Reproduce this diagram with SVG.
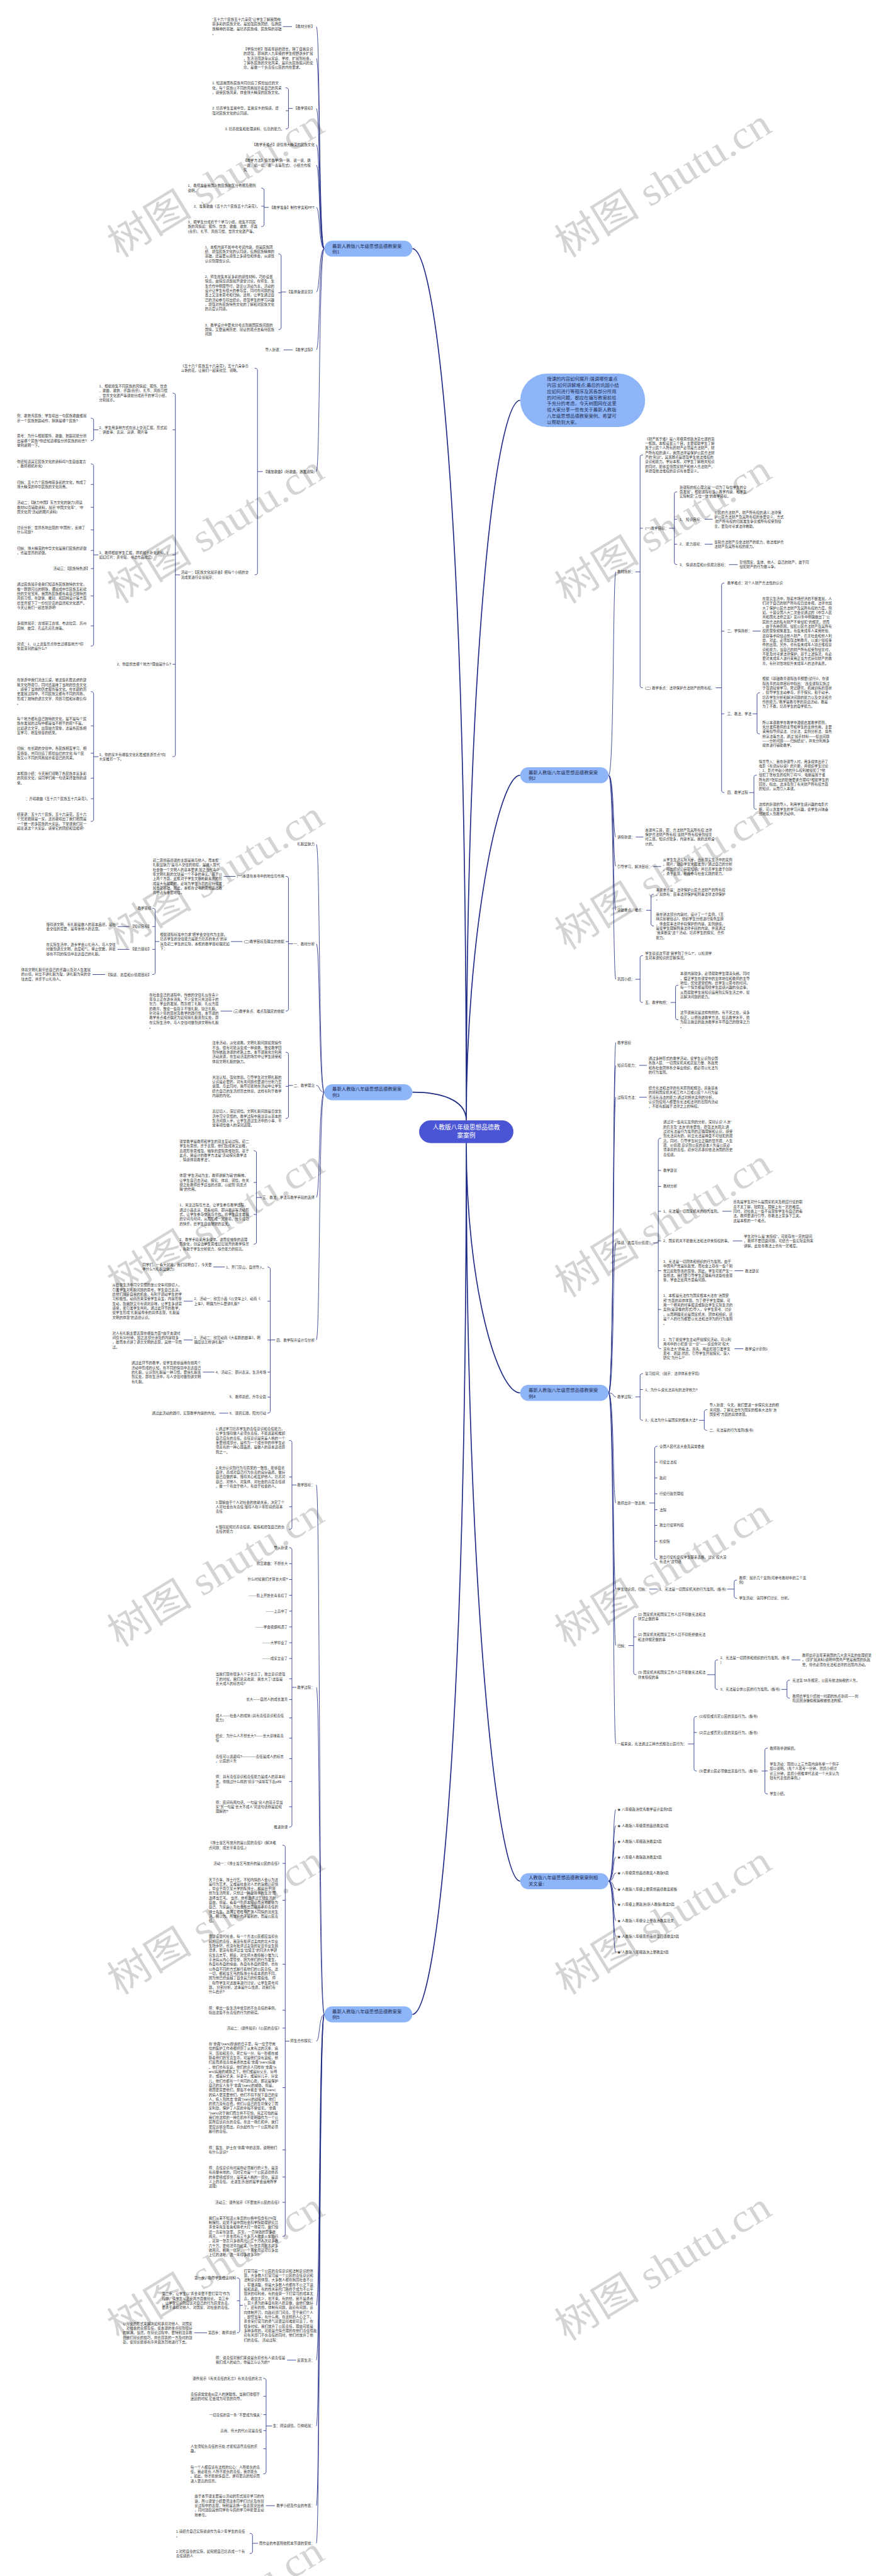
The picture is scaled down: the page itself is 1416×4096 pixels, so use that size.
<svg xmlns="http://www.w3.org/2000/svg" width="1416" height="4096" viewBox="0 0 1416 4096">
<style>
text{font-family:'Liberation Sans','Noto Sans CJK SC',sans-serif}
.t{font-size:10px;fill:#333}
.e{text-anchor:end}
.b{font-size:13.3px;fill:#263056}
.c{font-size:17.6px;fill:#fff;text-anchor:middle}
.bn{fill:#8db5f8}
.l{fill:none;stroke:#1f2a86;stroke-width:1.5}
.m{fill:none;stroke:#1f2a86;stroke-width:3}
.w{font-family:'Liberation Serif','Noto Sans CJK SC',serif;font-size:115px;fill:#000;fill-opacity:0.17;text-anchor:middle}
</style>
<rect width="1416" height="4096" fill="#fff"/>
<g transform="scale(0.553)">
<g id="connectors">
<path class="m" d="M1185,715C1250,715 1340,1400 1340,3222M1185,3140.5C1262,3140.5 1340,3160 1340,3222M1185,5792C1250,5792 1340,5100 1340,3286M1495,1151C1430,1151 1340,1800 1340,3222M1495,2229C1430,2229 1340,2700 1340,3222M1495,4005C1430,4005 1340,3700 1340,3286M1495,5409C1430,5409 1340,4600 1340,3286"/>
<path class="l" d="M932,715C916,715 920,76.5 909,76.5M932,715C916,715 920,167.6 909,167.6M932,715C916,715 920,311.7 909,311.7M932,715C916,715 920,416.1 909,416.1M932,715C916,715 920,474.9 909,474.9M932,715C916,715 920,596.3 909,596.3M932,715C916,715 920,839.4 909,839.4M932,715C916,715 920,1006 909,1006M932,715C916,715 920,1356 909,1356"/>
<path class="l" d="M932,3140.5C916,3140.5 920,2427.5 909,2427.5M932,3140.5C916,3140.5 920,2713.6 909,2713.6M932,3140.5C916,3140.5 920,3121 909,3121M932,3140.5C916,3140.5 920,3443.1 909,3443.1M932,3140.5C916,3140.5 920,3852.8 909,3852.8"/>
<path class="l" d="M932,5792C916,5792 920,4269.8 909,4269.8M932,5792C916,5792 920,4851.7 909,4851.7M932,5792C916,5792 920,5868.9 909,5868.9M932,5792C916,5792 920,6628.6 909,6628.6M932,5792C916,5792 920,6786.2 909,6786.2M932,5792C916,5792 920,6975.5 909,6975.5M932,5792C916,5792 920,7204.6 909,7204.6M932,5792C916,5792 920,7312.9 909,7312.9"/>
<path class="l" d="M1749,2229C1765,2229 1761,1644.2 1770,1644.2M1749,2229C1765,2229 1761,2406.8 1770,2406.8M1749,2229C1765,2229 1761,2491.2 1770,2491.2M1749,2229C1765,2229 1761,2617.3 1770,2617.3M1749,2229C1765,2229 1761,2815.8 1770,2815.8"/>
<path class="l" d="M1749,4005C1765,4005 1761,2997.4 1770,2997.4M1749,4005C1765,4005 1761,3063.3 1770,3063.3M1749,4005C1765,4005 1761,3154.9 1770,3154.9M1749,4005C1765,4005 1761,3573.6 1770,3573.6M1749,4005C1765,4005 1761,4016.4 1770,4016.4M1749,4005C1765,4005 1761,4321.7 1770,4321.7M1749,4005C1765,4005 1761,4569.2 1770,4569.2M1749,4005C1765,4005 1761,4731.6 1770,4731.6M1749,4005C1765,4005 1761,5014.4 1770,5014.4"/>
<path class="l" d="M1749,5409C1765,5409 1761,5203.2 1770,5203.2M1749,5409C1765,5409 1761,5249 1770,5249M1749,5409C1765,5409 1761,5294.8 1770,5294.8M1749,5409C1765,5409 1761,5339.8 1770,5339.8M1749,5409C1765,5409 1761,5385.6 1770,5385.6M1749,5409C1765,5409 1761,5431.4 1770,5431.4M1749,5409C1765,5409 1761,5476.4 1770,5476.4M1749,5409C1765,5409 1761,5522.3 1770,5522.3M1749,5409C1765,5409 1761,5568.1 1770,5568.1M1749,5409C1765,5409 1761,5613.9 1770,5613.9"/>
<path class="l" d="M813,76.5H839M815,1006H841
M821,252.45Q829,252.45 829,258.45L829,364.7Q829,370.7 821,370.7M829,318.3H821M841,311.7H829
M751,540.9Q759,540.9 759,546.9L759,645.45Q759,651.45 751,651.45M759,593.1H751M772,596.3H759
M800,730.2Q808,730.2 808,736.2L808,941.6Q808,947.6 800,947.6M808,842H800M822,839.4H808
M732,1058.9Q740,1058.9 740,1064.9L740,1646.8Q740,1652.8 732,1652.8M755,1356H740
M496,1130.4Q504,1130.4 504,1136.4L504,2169.8Q504,2175.8 496,2175.8M504,1235.9H496M504,1595.4H496M504,1910H496M518,1652.8H504
M261,1202.4Q269,1202.4 269,1208.4L269,1261.3Q269,1267.3 261,1267.3M283,1235.9H269
M261,1333.9Q269,1333.9 269,1339.9L269,1851.7Q269,1857.7 261,1857.7M269,1392.9H261M269,1458.6H261M269,1523.7H261M269,1582.7H261M269,1635H261M269,1713.6H261M269,1799.5H261M283,1595.4H269
M261,1988.6Q269,1988.6 269,1994.6L269,2356Q269,2362 261,2362M269,2087H261M269,2165.65H261M269,2237.45H261M269,2296.7H261M283,2175.8H269"/>
<path class="l" d="M821,2519.9Q829,2519.9 829,2525.9L829,2901.4Q829,2907.4 821,2907.4M829,2707.3H821M842,2713.6H829
M643,2520H677M664,2707.3H697M634,2907.4H667
M438,2611.6Q446,2611.6 446,2617.6L446,2796.1Q446,2802.1 438,2802.1M446,2664.2H438M446,2729.6H438M458,2707.2H446
M338,2664.2H372M338,2729.6H372M266,2802H302
M821,3025.5Q829,3025.5 829,3031.5L829,3209.9Q829,3215.9 821,3215.9M829,3123.6H821M842,3121H829
M729,3308.6Q737,3308.6 737,3314.6L737,3571.45Q737,3577.45 729,3577.45M737,3400H729M737,3491.9H729M752,3443.1H737
M768.6,3643.2Q776.6,3643.2 776.6,3649.2L776.6,4057.3Q776.6,4063.3 768.6,4063.3M776.6,3741.4H768.6M776.6,3853.1H768.6M776.6,3945.3H768.6M776.6,4017H768.6M791,3852.8H776.6
M613,3643H646M528,3741.4H554M528,3853H554M583,3945.3H616M630,4063.3H656"/>
<path class="l" d="M831,4141.8Q839,4141.8 839,4147.8L839,4391.5Q839,4397.5 831,4397.5M839,4246.8H831M839,4332.45H831M852,4269.8H839
M831,4449.9Q839,4449.9 839,4455.9L839,5247.5Q839,5253.5 831,5253.5M839,4496.2H831M839,4541.6H831M839,4587H831M839,4632.5H831M839,4677.9H831M839,4723.4H831M839,4768.8H831M839,4827.05H831M839,4886.8H831M839,4939.6H831M839,4997.8H831M839,5056.8H831M839,5122.45H831M839,5195.05H831M852,4851.7H839
M811.7,5305.6Q819.7,5305.6 819.7,5311.6L819.7,6424.4Q819.7,6430.4 811.7,6430.4M819.7,5357.9H811.7M819.7,5463.8H811.7M819.7,5647.9H811.7M819.7,5779.9H811.7M819.7,5831.5H811.7M819.7,6002.8H811.7M819.7,6181.6H811.7M819.7,6259.7H811.7M819.7,6332.5H811.7M832,5868.9H819.7
M681,6549.8Q689,6549.8 689,6555.8L689,6701.4Q689,6707.4 681,6707.4M689,6615.4H681M698,6628.6H689
M558,6707.4H595M825,6786.2H851
M756.8,6838.5Q764.8,6838.5 764.8,6844.5L764.8,7107.3Q764.8,7113.3 756.8,7113.3M764.8,6890.1H756.8M764.8,6943.1H756.8M764.8,6988.8H756.8M764.8,7041.1H756.8M782,6975.5H764.8
M764,7204.6H790
M717.6,7284.2Q725.6,7284.2 725.6,7290.2L725.6,7336.3Q725.6,7342.3 717.6,7342.3M742,7312.9H725.6"/>
<path class="l" d="M1847.5,1308.1Q1839.5,1308.1 1839.5,1314.1L1839.5,1971.7Q1839.5,1977.7 1847.5,1977.7M1839.5,1518.9H1847.5M1826,1644.2H1839.5
M1946,1414Q1938,1414 1938,1420L1938,1617.3Q1938,1623.3 1946,1623.3M1938,1493.1H1946M1938,1564.7H1946M1923,1518.9H1938
M2025,1493H2048M2025,1564.7H2048M2095,1623.4H2120
M2081.7,1676.4Q2073.7,1676.4 2073.7,1682.4L2073.7,2273Q2073.7,2279 2081.7,2279M2073.7,1814.6H2081.7M2073.7,2052.4H2081.7M2057,1977.7H2073.7
M2163,1814.4H2186
M2183.6,1992Q2175.6,1992 2175.6,1998L2175.6,2104.4Q2175.6,2110.4 2183.6,2110.4M2163,2052.4H2175.6
M2174.6,2228.75Q2166.6,2228.75 2166.6,2234.75L2166.6,2320.85Q2166.6,2326.85 2174.6,2326.85M2153,2279H2166.6
M1827,2406.8H1849M1877,2491.5H1900
M1879,2571.15Q1871,2571.15 1871,2577.15L1871,2656.5Q1871,2662.5 1879,2662.5M1857,2617.3H1871
M1847.5,2747.7Q1839.5,2747.7 1839.5,2753.7L1839.5,2876.5Q1839.5,2882.5 1847.5,2882.5M1826,2815.8H1839.5
M1949.4,2832.8Q1941.4,2832.8 1941.4,2838.8L1941.4,2926.2Q1941.4,2932.2 1949.4,2932.2M1927,2882.5H1941.4"/>
<path class="l" d="M1837,3063.3H1859M1837,3155H1859
M1899.8,3272.9Q1891.8,3272.9 1891.8,3278.9L1891.8,3872.1Q1891.8,3878.1 1899.8,3878.1M1891.8,3365.5H1899.8M1891.8,3411.3H1899.8M1891.8,3482.8H1899.8M1891.8,3568H1899.8M1891.8,3653.9H1899.8M1891.8,3765.25H1899.8M1877,3573.6H1891.8
M2076,3482.8H2102M2106,3568H2133M2111,3653.9H2136M2111,3878.1H2136
M1847.5,3949.7Q1839.5,3949.7 1839.5,3955.7L1839.5,4077.9Q1839.5,4083.9 1847.5,4083.9M1839.5,3995.5H1847.5M1826,4016.4H1839.5
M2032,4053.35Q2024,4053.35 2024,4059.35L2024,4106.8Q2024,4112.8 2032,4112.8M2009,4083.9H2024
M1889.5,4158.6Q1881.5,4158.6 1881.5,4164.6L1881.5,4478.2Q1881.5,4484.2 1889.5,4484.2M1881.5,4204.4H1889.5M1881.5,4249.4H1889.5M1881.5,4295.2H1889.5M1881.5,4341H1889.5M1881.5,4386H1889.5M1881.5,4431.8H1889.5M1866,4321.7H1881.5
M1866,4569.2H1890
M2118,4543Q2110,4543 2110,4549L2110,4589.7Q2110,4595.7 2118,4595.7M2090,4569.2H2110
M1829,4648.1Q1821,4648.1 1821,4654.1L1821,4809.3Q1821,4815.3 1829,4815.3M1821,4706.8H1829M1806,4731.6H1821
M2063,4772.7Q2055,4772.7 2055,4778.7L2055,4851.7Q2055,4857.7 2063,4857.7M2032,4815.3H2055
M2275,4772.7H2300
M2269.7,4831.2Q2261.7,4831.2 2261.7,4837.2L2261.7,4876.8Q2261.7,4882.8 2269.7,4882.8M2245,4857.7H2261.7
M2002.5,4935.6Q1994.5,4935.6 1994.5,4941.6L1994.5,5086.3Q1994.5,5092.3 2002.5,5092.3M1994.5,4981.4H2002.5M1977,5014.4H1994.5
M2206.3,5026.4Q2198.3,5026.4 2198.3,5032.4L2198.3,5152.2Q2198.3,5158.2 2206.3,5158.2M2198.3,5092.1H2206.3M2189,5092.3H2198.3"/>
</g>

<g id="center"><rect x="1205" y="3222" width="270" height="64" rx="32" fill="#4a55d6" stroke="#3a44b4" stroke-width="1"/><text class="c" x="1340" y="3248">人教版八年级思想品德教<tspan x="1340" dy="23">案案例</tspan></text></g>

<g id="intro"><rect class="bn" x="1495" y="1074" width="359" height="154" rx="77"/><text class="b" x="1572" y="1094.1">授课的内容如何展开;强调哪些重点<tspan x="1572" dy="17.8">内容;如何讲解难点;最后的巩固小结</tspan><tspan x="1572" dy="17.8">应如何进行等程序及其各部分所用</tspan><tspan x="1572" dy="17.8">的时间问题，都应在编写教案前给</tspan><tspan x="1572" dy="17.8">予充分的考虑。今天树图网在这里</tspan><tspan x="1572" dy="17.8">给大家分享一些有关于最新人教版</tspan><tspan x="1572" dy="17.8">八年级思想品德教案案例，希望可</tspan><tspan x="1572" dy="17.8">以帮助到大家。</tspan></text></g>

<g id="case1"><rect class="bn" x="932" y="692" width="253" height="46" rx="23"/><text class="b" x="955" y="712">最新人教版八年级思想品德教案案<tspan x="955" dy="17.6">例1</tspan></text></g>
<g id="case1-items">
<text class="t e" x="904" y="80.1">【教材分析】</text>
<text class="t" x="610" y="59.4">“五十六个民族五十六朵花”让学生了解我国绚<tspan x="610" dy="13.25">丽多彩的民族文化，是加强民族团结、弘扬民</tspan><tspan x="610" dy="13.25">族精神的基础，是培养民族魂、民族情的基础</tspan><tspan x="610" dy="13.25">。</tspan></text>
<text class="t" x="700" y="144.7">【学情分析】随着年龄的增长，除了自我意识<tspan x="700" dy="13.25">的增强，即将跨入九年级的学生视野逐步扩展</tspan><tspan x="700" dy="13.25">，生活范围逐渐从家庭、学校、扩展到社会。</tspan><tspan x="700" dy="13.25">了解各民族的文化风采，是肩负民族振兴的使</tspan><tspan x="700" dy="13.25">命，是做一个负责任公民的内在要求。</tspan></text>
<text class="t e" x="904" y="315.3">【教学目标】</text>
<text class="t" x="610" y="242.8">1. 知道我国各民族共同创造了辉煌灿烂的文<tspan x="610" dy="13.25">化，每个民族以不同的风格展示着自己的风采</tspan><tspan x="610" dy="13.25">，感受民族风采，体会博大精深的民族文化。</tspan></text>
<text class="t" x="610" y="315.3">2. 培养学生爱我中华，爱我家乡的情感，增<tspan x="610" dy="13.25">强对民族文化的认同感。</tspan></text>
<text class="t e" x="817" y="374.3">3. 培养搜集和处理资料、信息的能力。</text>
<text class="t e" x="904" y="419.7">【教学重难点】感悟博大精深的民族文化</text>
<text class="t" x="700" y="465.2">【教学方法】情景教学(猜一猜、说一说、跳<tspan x="700" dy="13.25">一跳、唱一唱、奏一奏等形式)、小组合作探</tspan><tspan x="700" dy="13.25">究</tspan></text>
<text class="t e" x="904" y="599.9">【教学准备】制作学案和PPT</text>
<text class="t" x="540" y="537.7">1、教师准备我国少数民族地区分布图及图例<tspan x="540" dy="13.25">说明。</tspan></text>
<text class="t e" x="747" y="596.7">2、准备歌曲《五十六个民族五十六朵花》。</text>
<text class="t" x="540" y="642.2">3、把学生分成若干个学习小组，搜集不同民<tspan x="540" dy="13.25">族的风情如：服饰、饮食、歌曲、歌舞、乐器</tspan><tspan x="540" dy="13.25">(音乐)、礼节、风俗习惯、世界文化遗产等。</tspan></text>
<text class="t e" x="904" y="843">【集体备课意见】</text>
<text class="t" x="589" y="713.9">1、本框内容不属中考考试内容，但是民族团<tspan x="589" dy="13.25">结、增强民族文化的认同感，弘扬民族精神的</tspan><tspan x="589" dy="13.25">基础，还是要从感性上多感悟和体会，从感性</tspan><tspan x="589" dy="13.25">认识到理性认识。</tspan></text>
<text class="t" x="589" y="799.2">2、师生搜集丰富多彩的感性材料，巧妙设置<tspan x="589" dy="13.25">情境，由情境话题展开课堂讨论，在师生、生</tspan><tspan x="589" dy="13.25">生合作中明理导行，建议以活动为主，活动的</tspan><tspan x="589" dy="13.25">设计让学生有很大的参与度，同时在问题的设</tspan><tspan x="589" dy="13.25">置上又注重思考和归纳，这样，让学生通过自</tspan><tspan x="589" dy="13.25">己的活动参与得出结论，增强学生的学习兴趣</tspan><tspan x="589" dy="13.25">，增强对各民族特色文化的了解和对民族文化</tspan><tspan x="589" dy="13.25">的高度认同感。</tspan></text>
<text class="t" x="589" y="937.9">3、教学设计中要充分考虑到我国民族问题的<tspan x="589" dy="13.25">国情，又要运用历史、辩证的观点去看待民族</tspan><tspan x="589" dy="13.25">问题</tspan></text>
<text class="t e" x="904" y="1009.6">【教学过程】</text>
<text class="t e" x="812" y="1009.6">导入新课：</text>
<text class="t e" x="904" y="1359.6">【播放歌曲】(听歌曲，激发感情)</text>
<text class="t" x="520" y="1055.9">《五十六个民族五十六朵花》，五十六朵争奇<tspan x="520" dy="13.25">斗艳的花，让我们一起来欣赏、领略。</tspan></text>
<text class="t" x="520" y="1649.8">活动一：【民族文化展示会】把每个小组的交<tspan x="520" dy="13.25">流成果进行全班展示：</tspan></text>
<text class="t" x="285" y="1114.1">1、根据搜集不同民族的风情如：服饰、饮食<tspan x="285" dy="13.25">、歌曲、歌舞、乐器(音乐)、礼节、风俗习惯</tspan><tspan x="285" dy="13.25">、世界文化遗产等课前分成若干的学习小组，</tspan><tspan x="285" dy="13.25">分别展示。</tspan></text>
<text class="t" x="285" y="1232.9">2、学生用多种方式在班上交流汇报，形式如<tspan x="285" dy="13.25">：讲故事、表演、演讲、图片等</tspan></text>
<text class="t" x="49" y="1199.4">例：歌舞秀民族：学生唱出一句民族歌曲或展<tspan x="49" dy="13.25">示一个民族舞蹈动作，猜猜是哪个民族?</tspan></text>
<text class="t" x="49" y="1257.6">思考：为什么根据服饰、歌曲、舞蹈就能分辨<tspan x="49" dy="13.25">出是哪个民族?你还知道哪些分辨民族的标志?</tspan><tspan x="49" dy="13.25">举例说明一下。</tspan></text>
<text class="t" x="285" y="1592.4">3、教师根据学生汇报，择机展示补充资料。(<tspan x="285" dy="13.25">如幻灯片：黄帝陵、书法作品欣赏)</tspan></text>
<text class="t" x="49" y="1330.9">你还知道其它民族文化的资料吗?(生自由发言<tspan x="49" dy="13.25">，教师相机补充)</tspan></text>
<text class="t" x="49" y="1389.9">归纳：五十六个民族绚丽多彩的文化，构成了<tspan x="49" dy="13.25">博大精深的中华民族的文化画卷。</tspan></text>
<text class="t" x="49" y="1448.9">活动二：【魅力中国】东方文化的魅力(阅读<tspan x="49" dy="13.25">教材92页辅助资料，展示“中国文化年”、“中</tspan><tspan x="49" dy="13.25">国文化周”活动的图片资料)</tspan></text>
<text class="t" x="49" y="1520.7">讨论分析：世界各地出现的“中国热”，反映了<tspan x="49" dy="13.25">什么问题?</tspan></text>
<text class="t" x="49" y="1579.7">归纳：博大精深的中华文化是我们民族的骄傲<tspan x="49" dy="13.25">，也是世界的骄傲。</tspan></text>
<text class="t e" x="258" y="1638.6">活动三：【民族特色游】</text>
<text class="t" x="49" y="1684.1">通过民族展示会我们知道各民族独特的文化，<tspan x="49" dy="13.25">像一颗颗闪亮的明珠，镶嵌成中华民族五彩缤</tspan><tspan x="49" dy="13.25">纷的文化宝库。我国各民族都有着自己独特的</tspan><tspan x="49" dy="13.25">风俗习惯，在建筑、雕刻、和园林设计等方面</tspan><tspan x="49" dy="13.25">给世界留下了一份份珍贵的自然和文化遗产。</tspan><tspan x="49" dy="13.25">今天让我们一起去旅游吧!</tspan></text>
<text class="t" x="49" y="1796.5">多媒体展示：古城丽江古城、布达拉宫、苏州<tspan x="49" dy="13.25">园林、故宫、孔庙孔府孔林等。</tspan></text>
<text class="t" x="49" y="1854.7">对话：1、以上这些景点你去过哪些地方?印<tspan x="49" dy="13.25">象最深刻的是什么?</tspan></text>
<text class="t e" x="492" y="1913.6">2、你最想去哪个地方?理由是什么?</text>
<text class="t" x="285" y="2172.8">3、你的家乡有哪些文化名胜或旅游景点?向<tspan x="285" dy="13.25">大家推荐一下。</tspan></text>
<text class="t" x="49" y="1959.1">在旅游中我们流连忘返，被这些名胜古迹的建<tspan x="49" dy="13.25">筑文化所吸引，同时还品味了当地的饮食文化</tspan><tspan x="49" dy="13.25">、感受了当地的历史服饰等文化。在长期的历</tspan><tspan x="49" dy="13.25">史发展过程中，不同民族又都有不同的风格，</tspan><tspan x="49" dy="13.25">形成了独特的语言文字、风俗习惯和宗教信仰</tspan><tspan x="49" dy="13.25">。</tspan></text>
<text class="t" x="49" y="2070.7">每个地方都有自己独特的文化，是不是每个民<tspan x="49" dy="13.25">族在发展的过程中都是毫不相干的呢?不是。</tspan><tspan x="49" dy="13.25">比如语言文字，出现融合现象，这是各民族相</tspan><tspan x="49" dy="13.25">互学习、相互借鉴的结果。</tspan></text>
<text class="t" x="49" y="2156">归纳：在长期的交往中，各民族相互学习、相<tspan x="49" dy="13.25">互借鉴，共同创造了辉煌灿烂的文化;每个民</tspan><tspan x="49" dy="13.25">族又以不同的风格展示着自己的风采。</tspan></text>
<text class="t" x="49" y="2227.8">本框题小结：今天我们领略了各民族丰富多彩<tspan x="49" dy="13.25">的风俗文化，请同学们用一句话来抒发你的感</tspan><tspan x="49" dy="13.25">受。</tspan></text>
<text class="t e" x="258" y="2300.3">：齐唱歌曲《五十六个民族五十六朵花》。</text>
<text class="t" x="49" y="2345.7">结束语：五十六个民族，五十六朵花，五十六<tspan x="49" dy="13.25">个兄弟姐妹是一家，这首歌唱出了我们祖国是</tspan><tspan x="49" dy="13.25">一个统一的多民族的大家庭。下堂课我们就一</tspan><tspan x="49" dy="13.25">起走进这个大家庭，感受它的团结和温暖吧!</tspan></text>
</g>

<g id="case3"><rect class="bn" x="932" y="3117.5" width="253" height="46" rx="23"/><text class="b" x="955" y="3136">最新人教版八年级思想品德教案案<tspan x="955" dy="17.6">例3</tspan></text></g>
<g id="case3-items">
<text class="t e" x="904" y="2431.1">礼貌显魅力</text>
<text class="t e" x="904" y="2717.2">一、教材分析</text>
<text class="t e" x="817" y="2523.5">(一)本课在本书中的地位与作用</text>
<text class="t" x="439" y="2477.3">初二思想品德课的主题是我与他人，而本框“<tspan x="439" dy="13.25">礼貌显魅力”是与人交往的前提，是融入现代</tspan><tspan x="439" dy="13.25">社会做一个文明人的基本要求;加之当代青少</tspan><tspan x="439" dy="13.25">年文明礼貌的欠缺是一个不争的事实。基于以</tspan><tspan x="439" dy="13.25">上两个方面，此框对于学生文明礼貌素质的形</tspan><tspan x="439" dy="13.25">成是大有帮助的，必将为学生今后的可持续发</tspan><tspan x="439" dy="13.25">展奠定基础。因此，本框在全书的思想品德教</tspan><tspan x="439" dy="13.25">育中占有重要地位。</tspan></text>
<text class="t e" x="817" y="2710.9">(二)教学目标及确立的依据</text>
<text class="t" x="460" y="2690.9">根据课程标准中力求“把学会交往作为主题，<tspan x="460" dy="13.25">培养学生的交往能力是能力培养的重点”的宗</tspan><tspan x="460" dy="13.25">旨及初二学生的实际，本框的教学目标确定如</tspan><tspan x="460" dy="13.25">下：</tspan></text>
<text class="t e" x="435" y="2615.2">教学目标</text>
<text class="t e" x="435" y="2667.8">【知识目标】</text>
<text class="t" x="133" y="2661.4">懂得讲文明、有礼貌是做人的基本品德，是社<tspan x="133" dy="13.25">会交往的需要，是尊重他人的表现。</tspan></text>
<text class="t e" x="435" y="2733.2">【能力目标】</text>
<text class="t" x="133" y="2719.6">在实际生活中，逐步学会以礼待人，与人交往<tspan x="133" dy="13.25">时做到语言文明，态度和气，举止优雅，并能</tspan><tspan x="133" dy="13.25">够在不同的情境中表达自己的礼貌。</tspan></text>
<text class="t e" x="435" y="2805.7">【情感、态度和价值观目标】</text>
<text class="t" x="61" y="2792.2">体验文明礼貌带给自己的乐趣以及对人生发展<tspan x="61" dy="13.25">的价值，树立不讲礼貌为耻、讲礼貌为荣的交</tspan><tspan x="61" dy="13.25">往态度，并乐于以礼待人。</tspan></text>
<text class="t e" x="817" y="2911">(三)教学重点、难点及确定的依据</text>
<text class="t" x="429" y="2863.9">在社会变迁的进程中，传统的交往礼仪在青少<tspan x="429" dy="13.25">年身上正在逐步消失，不少家长只关注孩子的</tspan><tspan x="429" dy="13.25">智力、学业的发展，而忽视了礼貌、礼仪方面</tspan><tspan x="429" dy="13.25">的教育，致使一些孩子不懂礼貌，缺乏礼貌。</tspan><tspan x="429" dy="13.25">针对青少年的现状及教学的践行性，本节课的</tspan><tspan x="429" dy="13.25">教学重点难点确定为如何将礼貌落到实处，即</tspan><tspan x="429" dy="13.25">在实际生活中，与人交往时做到讲文明有礼貌</tspan><tspan x="429" dy="13.25">。</tspan></text>
<text class="t e" x="904" y="3124.6">二、教学理念</text>
<text class="t" x="610" y="3002.6">注重活动，淡化说教。文明礼貌问题如果操作<tspan x="610" dy="13.25">不当，很有可能演变成一种说教，致使教学回</tspan><tspan x="610" dy="13.25">到传统政治课的老路上去。本节课我充分利用</tspan><tspan x="610" dy="13.25">活动资源，在生动活泼的场景中让学生感受和</tspan><tspan x="610" dy="13.25">体验文明礼貌的魅力。</tspan></text>
<text class="t" x="610" y="3100.7">关注认知，强化体验。引导学生对文明礼貌的<tspan x="610" dy="13.25">认识是必要的，对有关问题也要进行分析乃至</tspan><tspan x="610" dy="13.25">说理。与此同时，我尽可能地在活动中让学生</tspan><tspan x="610" dy="13.25">结合自己的生活经历去体验，这样有利于教学</tspan><tspan x="610" dy="13.25">内容的内化。</tspan></text>
<text class="t" x="610" y="3199.6">表层切入，深层领悟。文明礼貌问题是日常生<tspan x="610" dy="13.25">活中司空见惯的。教学过程中我注意从基本的</tspan><tspan x="610" dy="13.25">生活问题入手，让学生透过生活中的小事、平</tspan><tspan x="610" dy="13.25">常事领悟做人的深刻道理。</tspan></text>
<text class="t e" x="904" y="3446.7">三、教法、学法与教学手段的选择</text>
<text class="t" x="516" y="3285.7">课堂教学是教师和学生的双主互动过程。初二<tspan x="516" dy="13.25">学生有思想，乐于表现，他们既成熟又幼稚，</tspan><tspan x="516" dy="13.25">直观形象思维强，抽象的逻辑思维较弱。基于</tspan><tspan x="516" dy="13.25">此点，我设计的教学方法是“活动探究教学法</tspan><tspan x="516" dy="13.25">、情感体验教学法”。</tspan></text>
<text class="t" x="516" y="3383.7">体现“学生活动为主，教师讲解为辅”的精神，<tspan x="516" dy="13.25">让学生自己去活动、探究、体验、领悟，在关</tspan><tspan x="516" dy="13.25">键之处教师给予适当的点拨，以起到“画龙点</tspan><tspan x="516" dy="13.25">睛”的作用。</tspan></text>
<text class="t" x="516" y="3469">1、关注过程与方法，让学生参与教学过程，<tspan x="516" dy="13.25">通过小品表演、观看动画、即兴表演等活动形</tspan><tspan x="516" dy="13.25">式，让学生参与交流与合作，给学生自主发展</tspan><tspan x="516" dy="13.25">的空间与时间，从而形成一定体验，分享成功</tspan><tspan x="516" dy="13.25">的快乐，给学生自由驰骋的蓝天。</tspan></text>
<text class="t" x="516" y="3567.8">2、教学手段采用多媒体，进而使抽象的道理<tspan x="516" dy="13.25">形象化，创设让学生思维层层展开的教学情景</tspan><tspan x="516" dy="13.25">，有助于学生分析能力、综合能力的提高。</tspan></text>
<text class="t e" x="904" y="3856.4">四、教学程序设计与分析</text>
<text class="t e" x="765" y="3646.8">1、开门见山，自然导入。</text>
<text class="t" x="409" y="3639.6">同学们，一看大屏幕，我们就明白了，今天要<tspan x="409" dy="13.25">学什么?(礼貌显魅力)</tspan></text>
<text class="t" x="558" y="3738.4">2、活动一：欣赏小品《公交车上》、动画《<tspan x="558" dy="13.25">上车》，明确为什么要讲礼貌?</tspan></text>
<text class="t" x="323" y="3698.6">从日常生活中司空见惯的坐公交车问题切入，<tspan x="323" dy="13.25">引发学生对礼貌问题的思考，学生自己表演，</tspan><tspan x="323" dy="13.25">给他们展示自我的机会，有利于调动学生的学</tspan><tspan x="323" dy="13.25">习积极性。动画历来深受学生喜爱，内容形象</tspan><tspan x="323" dy="13.25">生动，既幽默又带有讽刺意味，让学生多感官</tspan><tspan x="323" dy="13.25">感受，能引发学生共鸣。通过此环节的教学，</tspan><tspan x="323" dy="13.25">使学生形成“礼貌是尊重的具体表现，礼貌是</tspan><tspan x="323" dy="13.25">文明的体现”的道德认识。</tspan></text>
<text class="t" x="558" y="3850.1">3、活动二：欣赏动画《大着鹅的故事》，明<tspan x="558" dy="13.25">确应该怎样讲礼貌?</tspan></text>
<text class="t" x="323" y="3836.5">对人有礼貌主要表现在哪些方面?由于本课时<tspan x="323" dy="13.25">间仅有30分钟，加之这部分涉及的内容较多</tspan><tspan x="323" dy="13.25">，故而重点讲了语言文明的表现，其他一带而</tspan><tspan x="323" dy="13.25">过。</tspan></text>
<text class="t e" x="765" y="3948.9">4、活动三：即兴表演，生活考场</text>
<text class="t" x="378" y="3922.6">通过此环节的教学，使学生能够运用在前两个<tspan x="378" dy="13.25">活动中形成的认知，在不同的情境中表达自己</tspan><tspan x="378" dy="13.25">的礼貌，认识到礼貌是一种习惯，要将礼貌落</tspan><tspan x="378" dy="13.25">到实处，即在生活中，与人交往时做到讲文明</tspan><tspan x="378" dy="13.25">有礼貌。</tspan></text>
<text class="t e" x="765" y="4020.6">5、教师总结，升华全篇</text>
<text class="t e" x="765" y="4066.9">6、课后实践，阳光行动</text>
<text class="t e" x="626" y="4066.9">通过此活动的践行，实现教学内容的内化。</text>
</g>

<g id="case5"><rect class="bn" x="932" y="5769" width="253" height="46" rx="23"/><text class="b" x="955" y="5788">最新人教版八年级思想品德教案案<tspan x="955" dy="17.6">例5</tspan></text></g>
<g id="case5-items">
<text class="t e" x="904" y="4273.4">教学目标：</text>
<text class="t" x="620" y="4112.3">1.通过学习培养学生的责任意识和责任能力，<tspan x="620" dy="13.25">让学生懂得做人必须负责任，不能逃避和推卸</tspan><tspan x="620" dy="13.25">自己应负的责任。责任意识是完美人格的一个</tspan><tspan x="620" dy="13.25">重要组成部分，是作为一个成长中的中学生必</tspan><tspan x="620" dy="13.25">须具有的一种心理品质，是做人的基本道德原</tspan><tspan x="620" dy="13.25">则之一。</tspan></text>
<text class="t" x="620" y="4223.9">2.充分认识到行为与后果的一致性，能够自省<tspan x="620" dy="13.25">自律，养成对自己行为负责的良好品质。做好</tspan><tspan x="620" dy="13.25">自己应做的事，懂得关心和爱护他人。培养对</tspan><tspan x="620" dy="13.25">自己、对他人、对集体、对社会的高度责任感</tspan><tspan x="620" dy="13.25">，做一个有益于他人，有益于社会的人。</tspan></text>
<text class="t" x="620" y="4322.8">3.理解由于个人对社会的依赖关系，决定了个<tspan x="620" dy="13.25">人对社会负有责任;懂得人在少年阶段的基本</tspan><tspan x="620" dy="13.25">责任</tspan></text>
<text class="t" x="620" y="4394.5">4.懂得如何培养责任感，锻炼和增强自己的负<tspan x="620" dy="13.25">责任的能力</tspan></text>
<text class="t e" x="904" y="4855.3">教学过程：</text>
<text class="t e" x="827" y="4453.5">导入新课</text>
<text class="t e" x="827" y="4499.8">欣赏歌曲：不想长大</text>
<text class="t e" x="827" y="4545.2">什么时候我们才算长大呢?</text>
<text class="t e" x="827" y="4590.6">-------脸上开始长青春痘了</text>
<text class="t e" x="827" y="4636.1">-------上高中了</text>
<text class="t e" x="827" y="4681.5">-------学会吸烟喝酒了</text>
<text class="t e" x="827" y="4727">-------大学毕业了</text>
<text class="t e" x="827" y="4772.4">-------成家立业了</text>
<text class="t" x="620" y="4817.8">当我们现在很多人个子长高了，独立意识增强<tspan x="620" dy="13.25">了的时候，我们总喜欢说：我长大了!这些是</tspan><tspan x="620" dy="13.25">长大成人的标志吗?</tspan></text>
<text class="t e" x="827" y="4890.4">长大——自然人的成长发育</text>
<text class="t" x="620" y="4936.6">成人——社会人的成熟 (具有责任意识和责任<tspan x="620" dy="13.25">能力)</tspan></text>
<text class="t" x="620" y="4994.8">结论：为什么人不想长大?——长大意味着责<tspan x="620" dy="13.25">任</tspan></text>
<text class="t" x="620" y="5053.8">责任可以逃避吗?————责任是成人的标志<tspan x="620" dy="13.25">，公民的义务</tspan></text>
<text class="t" x="620" y="5112.8">师：具有责任意识和责任能力是成人的基本标<tspan x="620" dy="13.25">志，你挑过什么样的“担子”?请填写下表p89</tspan><tspan x="620" dy="13.25">页</tspan></text>
<text class="t" x="620" y="5185.4">师：民间有两句话，一句是“穷人的孩子早当<tspan x="620" dy="13.25">家”另一句是“长大不成人”对这句话你是如何</tspan><tspan x="620" dy="13.25">理解的?</tspan></text>
<text class="t e" x="827" y="5257.1">推进新课</text>
<text class="t e" x="904" y="5872.5">师生合作探究：</text>
<text class="t" x="600" y="5302.6">《博士当乞丐放弃的是公民的责任》(解决难<tspan x="600" dy="13.25">点问题：成长带来责任。)</tspan></text>
<text class="t e" x="808" y="5361.5">活动一：《博士当乞丐放弃的是公民的责任》</text>
<text class="t" x="600" y="5407.8">天下奇事，博士行乞。不知内情的人会以为这<tspan x="600" dy="13.25">是行为艺术，又或是社会对人才的浪费。可惜</tspan><tspan x="600" dy="13.25">，毕业于南京某大学的陈博士，却是出于“不</tspan><tspan x="600" dy="13.25">想为生活所累，只想过一种最简单的生活”而</tspan><tspan x="600" dy="13.25">选择当乞丐。 当然，他有选择过乞讨生活的</tspan><tspan x="600" dy="13.25">自由，但是，看着一个原本应该而且也能够为</tspan><tspan x="600" dy="13.25">自己、为家庭、为社会作出贡献并承担责任的</tspan><tspan x="600" dy="13.25">博士先生，选择了牺牲尊严博人同情的流离生</tspan><tspan x="600" dy="13.25">活，我以为，所放弃的不是别的，而是公民责</tspan><tspan x="600" dy="13.25">任。</tspan></text>
<text class="t" x="600" y="5572">要建设现代社会，每一个合法公民都应当担负<tspan x="600" dy="13.25">起相应的责任，我没有批评过卖肉的北大毕业</tspan><tspan x="600" dy="13.25">生陆步轩，也没有批评过卖蛋的复旦毕业生顾</tspan><tspan x="600" dy="13.25">澄勇，更没有批评过当“垃圾王”的同济大学研</tspan><tspan x="600" dy="13.25">究生高志军，相反，对北师大教授握小雏为儿</tspan><tspan x="600" dy="13.25">子治病从内心里赞誉，因为他们的行为发生，</tspan><tspan x="600" dy="13.25">各自有各自的缘由，各自有各自的理想，也在</tspan><tspan x="600" dy="13.25">以各自不同的方式履行着他们的公民责任。这</tspan><tspan x="600" dy="13.25">一切，都和当乞丐的陈博士有着本质的不同，</tspan><tspan x="600" dy="13.25">因为他已经逾越了自食其力的伦理底线。 师</tspan><tspan x="600" dy="13.25">：指导学生对这故事进行讨论，让学生思考问</tspan><tspan x="600" dy="13.25">题， 分别分析，这事是什么性质，对我们有</tspan><tspan x="600" dy="13.25">什么启示?</tspan></text>
<text class="t" x="600" y="5776.9">师：举出一些生活中常见的不负责任的事例，<tspan x="600" dy="13.25">指出这些不负责任的行为的错误。</tspan></text>
<text class="t e" x="808" y="5835.1">活动二：(课件展示)《公民的责任》</text>
<text class="t" x="600" y="5880.5">在“非典”(sars)肆虐的日子里，每一位坚守岗<tspan x="600" dy="13.25">位的医护工作者都经历了从未有过的沉重、痛</tspan><tspan x="600" dy="13.25">苦、压抑和无奈。死亡每一分、每一秒都在威</tspan><tspan x="600" dy="13.25">胁着他们的宝贵生命，可是他们没有退缩，他</tspan><tspan x="600" dy="13.25">们反而勇往直前英勇抗击着“非典”(sars)病魔</tspan><tspan x="600" dy="13.25">。他们也有家庭，他们的亲人同样在“非典”(s</tspan><tspan x="600" dy="13.25">ars)病魔的威胁之下。他们或是好父亲、好母</tspan><tspan x="600" dy="13.25">亲，或是好丈夫、好妻子，或是好儿子、好女</tspan><tspan x="600" dy="13.25">儿，他们也都有一个共同的心愿，那就是保护</tspan><tspan x="600" dy="13.25">自己的家人免于“非典”(sars)的威胁。但是，</tspan><tspan x="600" dy="13.25">祖国更需要他们，那些不幸罹患“非典”(sars)</tspan><tspan x="600" dy="13.25">的病人更需要他们，他们不得不抛下自己的家</tspan><tspan x="600" dy="13.25">人，投入到抗击“非典”(sars)的战役中。他们</tspan><tspan x="600" dy="13.25">的努力没有白费，他们以自己的生命保全了国</tspan><tspan x="600" dy="13.25">家利益，保护了人民的幸福不受侵害。“非典</tspan><tspan x="600" dy="13.25">”(sars)对于我们而言并不可怕，真正可怕的是</tspan><tspan x="600" dy="13.25">我们在这样的一种危机中不能明确作为一个公</tspan><tspan x="600" dy="13.25">民所应该肩负的责任。在这一场危机中，我们</tspan><tspan x="600" dy="13.25">更应该挺身而出，肩负起作为一个公民所必须</tspan><tspan x="600" dy="13.25">履行的责任。</tspan></text>
<text class="t" x="600" y="6178.6">师：医生、护士在“非典”中的表现，说明他们<tspan x="600" dy="13.25">有什么意识?</tspan></text>
<text class="t" x="600" y="6236.8">师：责任意识有时是你必须履行的义务，是没<tspan x="600" dy="13.25">有商量余地的。同时它也是一个公民道德修养</tspan><tspan x="600" dy="13.25">的重要组成部分，是完美人格的一部分。是道</tspan><tspan x="600" dy="13.25">义上的责任。 走进生活(目的是学会运用所学</tspan><tspan x="600" dy="13.25">道理)</tspan></text>
<text class="t e" x="808" y="6336.1">活动三：课件展示《不要放弃公民的责任》</text>
<text class="t" x="600" y="6381">我们从来不知道火车票的价格中包含有2%强<tspan x="600" dy="13.25">制保险，如果不是中国社会科学院助理研究员</tspan><tspan x="600" dy="13.25">黄金荣先生准备和铁老大打一场官司，我们怕</tspan><tspan x="600" dy="13.25">还一直蒙在鼓里。 厉害，一百块钱的票多收</tspan><tspan x="600" dy="13.25">两元，一个黄金周有三千多万人次乘火车出行</tspan><tspan x="600" dy="13.25">，就算一张票只多收两元，三千万人次就多收</tspan><tspan x="600" dy="13.25">六千万，更何况平均起来，一张票肯定不只多</tspan><tspan x="600" dy="13.25">收两元，粗略一估算，一个黄金周就可以多出</tspan><tspan x="600" dy="13.25">上亿的进帐，这一年得多收多少?</tspan></text>
<text class="t" x="700.5" y="6532.8">打官司是一个公民的责任意识和法制意识的体<tspan x="700.5" dy="13.25">现，大多数人打官司是一个公民的责任意识和</tspan><tspan x="700.5" dy="13.25">法制意识的体现，大多数人都在抱怨社会不公</tspan><tspan x="700.5" dy="13.25">，牢骚满腹，但是大多数人也都在不公之下退</tspan><tspan x="700.5" dy="13.25">缩和逃避，有的找关系托门路终于成为不公平</tspan><tspan x="700.5" dy="13.25">现状的得利者，有的盘算一下打官司的成本太</tspan><tspan x="700.5" dy="13.25">高，收益太少，划不来。有的想，我不是勇者</tspan><tspan x="700.5" dy="13.25">，见义勇为的事自有别人愿意做，由他们做好</tspan><tspan x="700.5" dy="13.25">了。还有的想，体制有问题，政府有问题，该</tspan><tspan x="700.5" dy="13.25">向体制开刀，向政府部门问责，至于我们个人</tspan><tspan x="700.5" dy="13.25">，螳臂当车，有什么用。在这样的人心之下，</tspan><tspan x="700.5" dy="13.25">黄金荣打官司的勇气就更显得难能可贵了。在</tspan><tspan x="700.5" dy="13.25">很多时候，我们放弃了公民责任，理由可能是</tspan><tspan x="700.5" dy="13.25">多种多样的，可能是合情合理的在他们责任怪政</tspan><tspan x="700.5" dy="13.25">府有关部门不负责任的同时，他们也放弃了他</tspan><tspan x="700.5" dy="13.25">们的责任。 活动过程：</tspan></text>
<text class="t e" x="678" y="6553.4">第一步，指导学生细读材料</text>
<text class="t" x="465" y="6599.1">第二步，让学生以“黄金荣要不要打官司”作为<tspan x="465" dy="13.25">辩题，请学生从正反两方面做辩论。 第三步</tspan><tspan x="465" dy="13.25">，让学生认识到应该对自己的行为后果负责，</tspan><tspan x="465" dy="13.25">要勇于承担对他人、对国家、对社会的责任。</tspan></text>
<text class="t e" x="678" y="6711">第四步：教师总结</text>
<text class="t" x="353" y="6684.5">以辩论的形式来解决如何承担对他人、对国家<tspan x="353" dy="13.25">、对社会的责任责任，使本课的重点得到很好</tspan><tspan x="353" dy="13.25">的解决。当然，在辩论过程中，要特别注意教</tspan><tspan x="353" dy="13.25">给他们辩论的技巧，并给弱势的一方及时的鼓</tspan><tspan x="353" dy="13.25">劲，使辩论能够有序并且激烈地进行下去。</tspan></text>
<text class="t e" x="904" y="6789.8">反思生活：</text>
<text class="t" x="620" y="6783.2">师：说责任对我们来说是负担也有人说责任是<tspan x="620" dy="13.25">我们成人的动力，你是怎么认为的?</tspan></text>
<text class="t e" x="904" y="6979.1">生：阅读感悟，引伸拓展：</text>
<text class="t e" x="753" y="6842.1">课件展示《有关责任的名言》有关责任的名言</text>
<text class="t" x="547.5" y="6887.1">责任感常常会纠正人的狭隘性。当我们徘徊于<tspan x="547.5" dy="13.25">迷途的时候,它会成为可靠的向导。</tspan></text>
<text class="t e" x="753" y="6946.7">一切责任的第一条:“不要成为懦夫.”</text>
<text class="t e" x="753" y="6992.4">高尚、伟大的代价就是责任</text>
<text class="t" x="547.5" y="7038.1">人生须知负责任的苦处,才能知道尽责任的乐<tspan x="547.5" dy="13.25">趣。</tspan></text>
<text class="t" x="547.5" y="7097">每一个人都应该有这样的信心：人所能负的责<tspan x="547.5" dy="13.25">任，我必能负;人所不能负的责任，我亦能负</tspan><tspan x="547.5" dy="13.25">。如此，你才能磨炼自己，求得更高的知识而</tspan><tspan x="547.5" dy="13.25">进入更高的境界。</tspan></text>
<text class="t e" x="904" y="7208.2">教学小结及作业的布置：</text>
<text class="t" x="559" y="7181.7">由于本节课主要是以活动的形式展示学习的内<tspan x="559" dy="13.25">容，所以课堂小结要须注重同学们讨论及在辩</tspan><tspan x="559" dy="13.25">论过程中的表现，特别是表扬一些表现突出者</tspan><tspan x="559" dy="13.25">，同时鼓励其他同学在今后的学习中能更主动</tspan><tspan x="559" dy="13.25">地参与。</tspan></text>
<text class="t e" x="904" y="7316.5">而作业的布置则依照本节课的安排：</text>
<text class="t" x="506" y="7281.2">1.请结合自己实际说说作为青少年学生的责任<tspan x="506" dy="13.25">。</tspan></text>
<text class="t" x="506" y="7339.3">2.对照自身的实际，如何把自己培养成一个有<tspan x="506" dy="13.25">责任感的人</tspan></text>
</g>

<g id="case2"><rect class="bn" x="1495" y="2206" width="254" height="46" rx="23"/><text class="b" x="1519" y="2225.2">最新人教版八年级思想品德教案案<tspan x="1519" dy="17.6">例2</tspan></text></g>
<g id="case2-items">
<text class="t" x="1774" y="1647.8">教材简析：</text>
<text class="t" x="1854" y="1265.3">《财产属于谁》是八年级思想政治第七课的第<tspan x="1854" dy="13.25">一框题。本框设置三个目，主要帮助学生了解</tspan><tspan x="1854" dy="13.25">属于公民个人所有的财产必须是合法财产，财</tspan><tspan x="1854" dy="13.25">产所有权的涵义，我国法律是保护公民合法财</tspan><tspan x="1854" dy="13.25">产的“利剑”。其落脚点是增强学生依法维权的</tspan><tspan x="1854" dy="13.25">意识和能力。学好本框，对学生了解相关知识</tspan><tspan x="1854" dy="13.25">的同时，能够爱惜国家财产和他人合法财产，</tspan><tspan x="1854" dy="13.25">并增强依法维权的意识有重要意义。</tspan></text>
<text class="t" x="1854" y="1522.5">(一)教学目标：</text>
<text class="t" x="1953" y="1404.3">新课程的核心理念是“一切为了每位学生的全<tspan x="1953" dy="13.25">面发展”，根据课程标准、教学内容、和学生</tspan><tspan x="1953" dy="13.25">实际制定“三位一体”的教学目标。</tspan></text>
<text class="t" x="1953" y="1496.7">1、 知识目标：</text>
<text class="t" x="2053" y="1476.6">公民的合法财产，财产所有权的涵义;法律保<tspan x="2053" dy="13.25">护公民合法财产及其所有权的重要意义、方式</tspan><tspan x="2053" dy="13.25">;财产所有权的归属发生争议或所有权受到侵</tspan><tspan x="2053" dy="13.25">害，要及时寻求法律救助。</tspan></text>
<text class="t" x="1953" y="1568.3">2、 能力目标：</text>
<text class="t" x="2053" y="1561.8">鉴别合法财产与非法财产的能力，依法维护合<tspan x="2053" dy="13.25">法财产及其所有权的能力。</tspan></text>
<text class="t" x="1953" y="1626.9">3、 情感态度和价值观念目标：</text>
<text class="t" x="2125" y="1620.5">珍惜国家、集体、他人、自己的财产，敢于同<tspan x="2125" dy="13.25">侵犯财产的行为做斗争。</tspan></text>
<text class="t" x="1854" y="1981.3">(二) 教学重点：法律保护合法财产的所有权，</text>
<text class="t" x="2090" y="1680">教学难点：对个人财产合法性的认识</text>
<text class="t" x="2090" y="1818.2">二、学情简析：</text>
<text class="t" x="2191" y="1725">在现实生活中，随着市场经济的不断发展，人<tspan x="2191" dy="13.25">们对于自己的财产所有权日益重视。法律也加</tspan><tspan x="2191" dy="13.25">大了保护公民合法财产及其所有权的力度。例</tspan><tspan x="2191" dy="13.25">如，十届全国人大二次会议通过的《中华人民</tspan><tspan x="2191" dy="13.25">共和国宪法修正案》第22条中明确做出了“公</tspan><tspan x="2191" dy="13.25">民的合法的私有财产不受侵犯”的规定。然而</tspan><tspan x="2191" dy="13.25">，由于各种原因，侵犯公民合法财产及其所有</tspan><tspan x="2191" dy="13.25">权的现象频繁发生。有些未成年人采用抢劫、</tspan><tspan x="2191" dy="13.25">盗窃等手段侵占他人财产，危害社会和他人利</tspan><tspan x="2191" dy="13.25">益，对此，必须加强法制教育，以减少侵权事</tspan><tspan x="2191" dy="13.25">件的出现。另外，也有些未成年人缺乏维权意</tspan><tspan x="2191" dy="13.25">识和能力，当自己的财产所有权受到侵害时，</tspan><tspan x="2191" dy="13.25">不能及时寻求法律保护。基于上述情况，有必</tspan><tspan x="2191" dy="13.25">要对未成年人进行采用正当方式获得财产的教</tspan><tspan x="2191" dy="13.25">育，有针对性地提升未成年人的法律素质。</tspan></text>
<text class="t" x="2090" y="2056">三、教法、学法</text>
<text class="t" x="2191" y="1955.6">根据《基础教育课程改革纲要(试行)》，在课<tspan x="2191" dy="13.25">程改革的具体目标中指出：“改变课程实施过</tspan><tspan x="2191" dy="13.25">于强调接受学习，死记硬背，机械训练的现状</tspan><tspan x="2191" dy="13.25">，倡导学生主动参与，乐于探究，勤于动手，</tspan><tspan x="2191" dy="13.25">培养学生分析和解决问题的能力以及交流和合</tspan><tspan x="2191" dy="13.25">作的能力。”教学是教与学的双边活动，教是</tspan><tspan x="2191" dy="13.25">为了不教，培养学生的自学能力。</tspan></text>
<text class="t" x="2191" y="2080.9">所以本课教学在教学中遵循启发教学原则，<tspan x="2191" dy="13.25">充分发挥教师的主导和学生的主体作用，主要</tspan><tspan x="2191" dy="13.25">采用指导阅读法、讨论法、案例分析法、角色</tspan><tspan x="2191" dy="13.25">扮演法等方法，通过“展示材料——提出问题</tspan><tspan x="2191" dy="13.25">——分析问题——归纳结论”，并充分利用多</tspan><tspan x="2191" dy="13.25">媒体进行辅助教学。</tspan></text>
<text class="t" x="2090" y="2282.6">四、教学过程</text>
<text class="t" x="2181" y="2192.6">情景导入：我在新课导入时，用多媒体出示了<tspan x="2181" dy="13.25">电影《有话好好说》的片断，并组织学生讨论</tspan><tspan x="2181" dy="13.25">：1、影片中赵小帅的什么权利被侵犯了?他</tspan><tspan x="2181" dy="13.25">侵犯了张秋生的权利了吗?2、电脑是属于谁</tspan><tspan x="2181" dy="13.25">所有的?张提出的赔偿要求合理吗?根据学生的</tspan><tspan x="2181" dy="13.25">回答，指出，这涉及到了有关财产所有权方面</tspan><tspan x="2181" dy="13.25">的知识，从而引入本课。</tspan></text>
<text class="t" x="2181" y="2317.2">这样的新课的导入，利用学生感兴趣的电影片<tspan x="2181" dy="13.25">断，可以激发学生的学习兴趣，使学生兴味盎</tspan><tspan x="2181" dy="13.25">然地投入到教学活动中。</tspan></text>
<text class="t" x="1774" y="2410.4">讲授新课：</text>
<text class="t" x="1854" y="2390.3">本课共三目，即：合法财产及其所有权;法律<tspan x="1854" dy="13.25">保护合法财产所有权;当财产所有权受到侵害</tspan><tspan x="1854" dy="13.25">时三目。知识点较多，内容丰富。我的这样设</tspan><tspan x="1854" dy="13.25">计的。</tspan></text>
<text class="t" x="1774" y="2494.8">引导学习，解决目标：</text>
<text class="t" x="1905" y="2475.5">从学生生活实际入手，出示现实生活中的案例<tspan x="1905" dy="13.25">，图片，鼓励学生大胆发言，通过自己的分析</tspan><tspan x="1905" dy="13.25">，得出结论，获取知识。并培养学生敢于创新</tspan><tspan x="1905" dy="13.25">，勇于表现，积极参与社会实践的能力。</tspan></text>
<text class="t" x="1774" y="2620.9">突破重点、难点：</text>
<text class="t" x="1885" y="2561.5">本课重点是：法律保护公民合法财产的所有权<tspan x="1885" dy="13.25">。具体有：民事法律保护和刑事法律法律保护</tspan><tspan x="1885" dy="13.25">。</tspan></text>
<text class="t" x="1885" y="2633">我在讲这部分内容时，设计了一个案例，《王<tspan x="1885" dy="13.25">林房屋被侵占》，组织学生分组进行角色互换</tspan><tspan x="1885" dy="13.25">，体会民事法律手段保护的内容。案例继续，</tspan><tspan x="1885" dy="13.25">是使学生理解刑事法律手段的内容。并且通过</tspan><tspan x="1885" dy="13.25">“我来断案”这个活动，培养学生的探究、合作</tspan><tspan x="1885" dy="13.25">能力。</tspan></text>
<text class="t" x="1774" y="2819.4">巩固小结：</text>
<text class="t" x="1854" y="2744.7">学生谈谈这节课“我学到了什么?”，以检测学<tspan x="1854" dy="13.25">生对本课知识的掌握情况。</tspan></text>
<text class="t" x="1854" y="2886.1">五、教学构想：</text>
<text class="t" x="1955" y="2803.3">本课内容较多，必须帮助学生理清头绪。同时<tspan x="1955" dy="13.25">，摆正学生在课堂中的主体地位和教师的主导</tspan><tspan x="1955" dy="13.25">地位，优化课堂结构，给学生以思考的时间，</tspan><tspan x="1955" dy="13.25">每一个情景都是围绕学生最感兴趣的身边事，</tspan><tspan x="1955" dy="13.25">从而帮助学生将知识运用到实际生活之中，提</tspan><tspan x="1955" dy="13.25">高解决问题的能力。</tspan></text>
<text class="t" x="1955" y="2915.9">这节课我就是这样构想的。有不足之处，请多<tspan x="1955" dy="13.25">指正，以便改进教学方法，提高教学水平，愿</tspan><tspan x="1955" dy="13.25">为提高我县的政治教学水平尽自己的微薄之力</tspan><tspan x="1955" dy="13.25">。</tspan></text>
</g>

<g id="case4"><rect class="bn" x="1495" y="3982" width="254" height="46" rx="23"/><text class="b" x="1519" y="4001.9">最新人教版八年级思想品德教案案<tspan x="1519" dy="17.6">例4</tspan></text></g>
<g id="case4-items">
<text class="t" x="1774" y="3001">教学目标</text>
<text class="t" x="1774" y="3066.9">知识与能力：</text>
<text class="t" x="1864" y="3046.8">通过多种形式的教学活动，使学生认识到全国<tspan x="1864" dy="13.25">各族人民、一切国家机关和武装力量、各政党</tspan><tspan x="1864" dy="13.25">和各社会团体各企事业组织，都必须以宪法为</tspan><tspan x="1864" dy="13.25">的行为准则。</tspan></text>
<text class="t" x="1774" y="3158.5">过程与方法：</text>
<text class="t" x="1864" y="3132">结合宪法和法律的有关原则和规范，具备基本<tspan x="1864" dy="13.25">的辨别国家机关和工作人员或公民个人行为是</tspan><tspan x="1864" dy="13.25">否违宪违法的能力;通过对相关案例的分析，</tspan><tspan x="1864" dy="13.25">认识到任何人都要在宪法和法律的范围内活动</tspan><tspan x="1864" dy="13.25">，不能有超越于法律之上的特权。</tspan></text>
<text class="t" x="1774" y="3577.2">情感、态度与价值观：</text>
<text class="t" x="1906" y="3230.1">通过对一些真实案例的分析，深刻认识“人治”<tspan x="1906" dy="13.25">的危害及“法治”的重要性，增强法治观念;通</tspan><tspan x="1906" dy="13.25">过对宪法是行为准则的正确理解和认识，感受</tspan><tspan x="1906" dy="13.25">到宪法具有的，树立宪法是神圣不可侵犯的观</tspan><tspan x="1906" dy="13.25">念。同时，引导学生树立正确的世界观、人生</tspan><tspan x="1906" dy="13.25">观、价值观;意识到公民的基本义务是公民必</tspan><tspan x="1906" dy="13.25">须承担的责任，初步培养承担依法治国的历史</tspan><tspan x="1906" dy="13.25">责任感。</tspan></text>
<text class="t" x="1906" y="3369.1">教学建议</text>
<text class="t" x="1906" y="3414.9">教材分析</text>
<text class="t" x="1906" y="3486.4">1、宪法是一切国家机关的行为准则。</text>
<text class="t" x="2107" y="3459.9">首先是学生对什么是国家机关及相应行使的职<tspan x="2107" dy="13.25">责不太了解，较陌生，理解上有一定的难度。</tspan><tspan x="2107" dy="13.25">同时，对社会上一些不良现象学生有自己的看</tspan><tspan x="2107" dy="13.25">法。教师要进行引导，在教法上需多下工夫。</tspan><tspan x="2107" dy="13.25">这是本框的一个难点。</tspan></text>
<text class="t" x="1906" y="3571.6">2、国家机关不能做宪法和法律未授权的事。</text>
<text class="t" x="2138" y="3558.7">学生对什么是“未授权”，可能存在一定的疑问<tspan x="2138" dy="13.25">，教师不要回避问题，可结合一些实际案例来</tspan><tspan x="2138" dy="13.25">讲解。此处在教法上也有一定难度。</tspan></text>
<text class="t" x="1906" y="3631">3、宪法是一切团体和组织的行为准则。由于<tspan x="1906" dy="13.25">中国共产党是执政党，而社会上存在一些个别</tspan><tspan x="1906" dy="13.25">党员腐败堕落的现象。因此，学生可能产生一</tspan><tspan x="1906" dy="13.25">些想法。我们要引导学生正确看待这些社会现</tspan><tspan x="1906" dy="13.25">象，学会正反两方面看问题。</tspan></text>
<text class="t" x="2141" y="3657.5">教法建议</text>
<text class="t" x="1906" y="3729.1">1、本框是宪法作为国家根本大法在“治国安<tspan x="1906" dy="13.25">邦”方面的具体体现。为了便于学生理解，可</tspan><tspan x="1906" dy="13.25">用一个相关的时事报道或贴近学生实际生活的</tspan><tspan x="1906" dy="13.25">案例(是录像的形式)导入，令学生思考、讨论</tspan><tspan x="1906" dy="13.25">，从而明确无论是国家机关、团体和组织，还</tspan><tspan x="1906" dy="13.25">是个人的行为都要以宪法和法律为的行为准则</tspan><tspan x="1906" dy="13.25">。</tspan></text>
<text class="t" x="1906" y="3855.2">2、为了能使学生主动开展探究活动，可以利<tspan x="1906" dy="13.25">用书中的小栏目“议一议”——谈谈你对“权大</tspan><tspan x="1906" dy="13.25">没有法大”的看法。首先，用此栏目引发学生</tspan><tspan x="1906" dy="13.25">思考、质疑;然后，引导学生开展探究，深入</tspan><tspan x="1906" dy="13.25">研究“为什么?”</tspan></text>
<text class="t" x="2141" y="3881.7">教学设计示例1</text>
<text class="t" x="1774" y="4020">教学过程：</text>
<text class="t" x="1854" y="3953.3">复习提问：(展示：法律体系金字塔)</text>
<text class="t" x="1854" y="3999.1">1、为什么说宪法具有的法律效力?</text>
<text class="t" x="1854" y="4087.5">2、宪法为什么是国家的根本大法?</text>
<text class="t" x="2039" y="4044.1">导入新课：今天，我们要进一步探究宪法的相<tspan x="2039" dy="13.25">关问题，了解宪法作为国家的根本大法在“治</tspan><tspan x="2039" dy="13.25">国安邦”方面的具体体现。</tspan></text>
<text class="t" x="2039" y="4116.4">二、宪法是的行为准则(板书)</text>
<text class="t" x="1774" y="4325.3">教师出示一张表格：</text>
<text class="t" x="1895" y="4162.2">全国人民代表大会及其常委会</text>
<text class="t" x="1895" y="4208">行使立法权</text>
<text class="t" x="1895" y="4253">政府</text>
<text class="t" x="1895" y="4298.8">行使行政管理权</text>
<text class="t" x="1895" y="4344.6">法院</text>
<text class="t" x="1895" y="4389.6">独立行使审判权</text>
<text class="t" x="1895" y="4435.4">检察院</text>
<text class="t" x="1895" y="4481.2">独立行使检察权学生联系表格，讨论“权大没<tspan x="1895" dy="13.25">有法大”这句话</tspan></text>
<text class="t" x="1774" y="4572.8">学生讨论后，归纳：</text>
<text class="t" x="1895" y="4572.8">1、宪法是一切国家机关的行为准则。(板书)</text>
<text class="t" x="2124" y="4540">教师：展示几个案例(可参考教材中的三个案<tspan x="2124" dy="13.25">例)</tspan></text>
<text class="t" x="2124" y="4599.3">学生活动：请同学们讨论、分析。</text>
<text class="t" x="1774" y="4735.2">归纳：</text>
<text class="t" x="1833" y="4645.1">(1) 国家机关和国家工作人员不得做宪法和法<tspan x="1833" dy="13.25">律禁止做的事</tspan></text>
<text class="t" x="1833" y="4703.8">(2) 国家机关和国家工作人员不得拒绝做宪法<tspan x="1833" dy="13.25">和法律规定做的事</tspan></text>
<text class="t" x="1833" y="4812.3">(3) 国家机关和国家工作人员不能做宪法和法<tspan x="1833" dy="13.25">律未授权的事</tspan></text>
<text class="t" x="2070" y="4769.7">2、宪法是一切团体和组织的行为准则。(板书<tspan x="2070" dy="13.25">)</tspan></text>
<text class="t" x="2305" y="4763.3">教师出示近年来我国的几大贪污案的处理结果<tspan x="2305" dy="13.25">。(见扩展资料)说明中国共产党是我国的执政</tspan><tspan x="2305" dy="13.25">党，但也必须在宪法和法律的范围内活动。</tspan></text>
<text class="t" x="2070" y="4861.3">3、宪法是全体公民的行为准则。(板书)</text>
<text class="t" x="2277" y="4834.8">宪法第 56条规定，公民有依法纳税的义务。</text>
<text class="t" x="2277" y="4879.8">教师给学生介绍前一时期的热点新闻——刘<tspan x="2277" dy="13.25">晓庆因涉嫌偷税漏税被依法拘留。</tspan></text>
<text class="t" x="1774" y="5018">一般来说，宪法通过三种方式规范公民行为：</text>
<text class="t" x="2009" y="4939.2">(1)提倡或肯定公民的某些行为。(板书)</text>
<text class="t" x="2009" y="4985">(2)禁止或否定公民的某些行为。(板书)</text>
<text class="t" x="2009" y="5095.9">(3)要求公民必须做出某些行为。(板书)</text>
<text class="t" x="2212" y="5030">教师简单讲解后。</text>
<text class="t" x="2212" y="5075.8">学生活动：围绕以上三方面内容各举一个例子<tspan x="2212" dy="13.25">加以说明。(先个人思考一分钟，然后小组讨</tspan><tspan x="2212" dy="13.25">论三分钟，最后小组推举代表说一个大家认为</tspan><tspan x="2212" dy="13.25">较有代表性的事例。)</tspan></text>
<text class="t" x="2212" y="5161.8">学生小结。</text>
</g>

<g id="related"><rect class="bn" x="1495" y="5386" width="254" height="46" rx="23"/><text class="b" x="1519" y="5404.1">人教版八年级思想品德教案案例相<tspan x="1519" dy="17.6">关文章：</tspan></text></g>
<g id="related-items">
<text class="t" x="1774" y="5206.8">★ 八年级政治优秀教学设计案例5篇</text>
<text class="t" x="1774" y="5252.6">★ 人教版八年级思想品德教案5篇</text>
<text class="t" x="1774" y="5298.4">★ 人教版八年级政治教案5篇</text>
<text class="t" x="1774" y="5343.4">★ 八年级人教版政治教案5篇</text>
<text class="t" x="1774" y="5389.2">★ 八年级思想品德教案人教版5篇</text>
<text class="t" x="1774" y="5435">★ 人教版八年级上册思想品德教案模板</text>
<text class="t" x="1774" y="5480">★ 八年级上册政治(新人教版)教案5篇</text>
<text class="t" x="1774" y="5525.9">★ 人教版八年级全上册政治教案范文</text>
<text class="t" x="1774" y="5571.7">★ 人教版八年级思想品德第四课教案5篇</text>
<text class="t" x="1774" y="5617.5">★ 人教版八年级政治上册教案5篇</text>
</g>

<g id="watermarks">
<text class="w" transform="translate(640,560) rotate(-31.6)" textLength="700" lengthAdjust="spacingAndGlyphs">树图 shutu.cn</text>
<text class="w" transform="translate(640,1555) rotate(-31.6)" textLength="700" lengthAdjust="spacingAndGlyphs">树图 shutu.cn</text>
<text class="w" transform="translate(640,2550) rotate(-31.6)" textLength="700" lengthAdjust="spacingAndGlyphs">树图 shutu.cn</text>
<text class="w" transform="translate(640,3550) rotate(-31.6)" textLength="700" lengthAdjust="spacingAndGlyphs">树图 shutu.cn</text>
<text class="w" transform="translate(640,4555) rotate(-31.6)" textLength="700" lengthAdjust="spacingAndGlyphs">树图 shutu.cn</text>
<text class="w" transform="translate(640,5555) rotate(-31.6)" textLength="700" lengthAdjust="spacingAndGlyphs">树图 shutu.cn</text>
<text class="w" transform="translate(640,6550) rotate(-31.6)" textLength="700" lengthAdjust="spacingAndGlyphs">树图 shutu.cn</text>
<text class="w" transform="translate(640,7540) rotate(-31.6)" textLength="700" lengthAdjust="spacingAndGlyphs">树图 shutu.cn</text>
<text class="w" transform="translate(1926,560) rotate(-31.6)" textLength="700" lengthAdjust="spacingAndGlyphs">树图 shutu.cn</text>
<text class="w" transform="translate(1926,1555) rotate(-31.6)" textLength="700" lengthAdjust="spacingAndGlyphs">树图 shutu.cn</text>
<text class="w" transform="translate(1926,2550) rotate(-31.6)" textLength="700" lengthAdjust="spacingAndGlyphs">树图 shutu.cn</text>
<text class="w" transform="translate(1926,3550) rotate(-31.6)" textLength="700" lengthAdjust="spacingAndGlyphs">树图 shutu.cn</text>
<text class="w" transform="translate(1926,4555) rotate(-31.6)" textLength="700" lengthAdjust="spacingAndGlyphs">树图 shutu.cn</text>
<text class="w" transform="translate(1926,5555) rotate(-31.6)" textLength="700" lengthAdjust="spacingAndGlyphs">树图 shutu.cn</text>
<text class="w" transform="translate(1926,6550) rotate(-31.6)" textLength="700" lengthAdjust="spacingAndGlyphs">树图 shutu.cn</text>
</g>
</g>
</svg>
